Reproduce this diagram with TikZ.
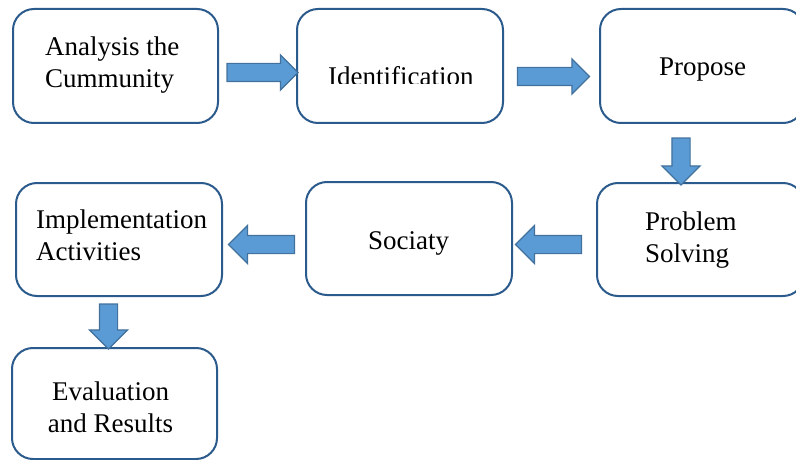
\documentclass[tikz,border=0pt]{standalone}
\usepackage{fontspec}
\setmainfont{Liberation Serif}
\usetikzlibrary{shapes.arrows}
\definecolor{boxblue}{HTML}{2B5A8C}
\definecolor{arrfill}{HTML}{5B9BD5}
\definecolor{arrdraw}{HTML}{41719C}
\begin{document}
\begin{tikzpicture}[x=1pt,y=-1pt,
  box/.style={draw=boxblue, line width=2pt, rounded corners=21pt, inner sep=0pt},
  lbl/.style={font=\fontsize{27}{32}\selectfont, inner sep=0pt, align=left},
  barrow/.style={single arrow, draw=arrdraw, fill=arrfill, line width=1.2pt,
    inner xsep=0pt, inner ysep=0pt, text height=17pt, text depth=0pt, text width=0pt,
    single arrow head extend=8.5pt, single arrow tip angle=90},
  wide/.style={single arrow head extend=10pt}]
\useasboundingbox (0,0) rectangle (796,460);
% boxes
\node[box, minimum width=205pt, minimum height=114pt] (b1) at (115.5,66) {};
\node[box, minimum width=206pt, minimum height=114pt] (b2) at (400,66) {};
\node[box, minimum width=204pt, minimum height=114pt] (b3) at (702,66) {};
\node[box, minimum width=207pt, minimum height=113pt] (b4) at (700.5,239.5) {};
\node[box, minimum width=206pt, minimum height=113pt] (b5) at (409,238.5) {};
\node[box, minimum width=206pt, minimum height=113pt] (b6) at (119,239.5) {};
\node[box, minimum width=205pt, minimum height=111pt] (b7) at (114.5,403.5) {};
% labels (base anchor = baseline of the last line)
\node[lbl, anchor=base west] (t1) at (45,88) {Analysis the\\Cummunity};
\begin{scope}
\clip (300,20) rectangle (500,84);
\node[lbl, anchor=base west] (t2) at (328,86) {Identification};
\end{scope}
\node[lbl, anchor=base west] (t3) at (659,76) {Propose};
\node[lbl, anchor=base west] (t4) at (645,262) {Problem\\Solving};
\node[lbl, anchor=base west] (t5) at (368,249) {Sociaty};
\node[lbl, anchor=base west] (t6) at (36,260) {Implementation\\Activities};
\node[lbl, anchor=base, align=center] (t7) at (110.5,432) {Evaluation\\and Results};
% block arrows
\node[barrow, minimum height=71pt] (a1) at (258,72.5) {};
\node[barrow, minimum height=72pt] (a2) at (549,76.5) {};
\node[barrow, wide, minimum height=47pt, rotate=-90] (a3) at (681,157) {};
\node[barrow, wide, minimum height=66pt, rotate=180] (a4) at (553,244.5) {};
\node[barrow, wide, minimum height=66pt, rotate=180] (a5) at (266,244.5) {};
\node[barrow, wide, minimum height=45pt, rotate=-90] (a6) at (108.5,322) {};
\end{tikzpicture}
\end{document}
